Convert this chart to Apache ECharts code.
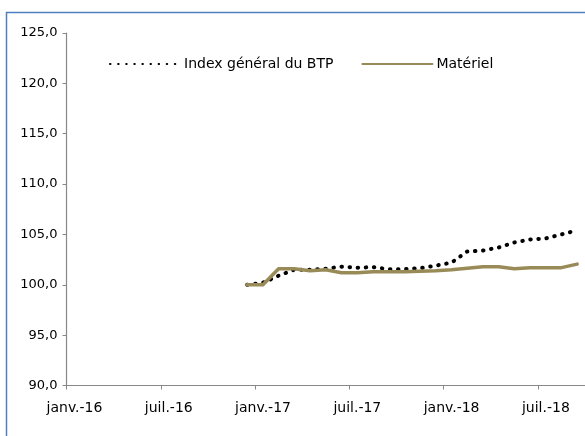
<!DOCTYPE html>
<html>
<head>
<meta charset="utf-8">
<script src="https://cdn.jsdelivr.net/npm/echarts@6/dist/echarts.min.js"></script>
<style>
html,body{margin:0;padding:0;background:#fff;}
#c{width:585px;height:436px;}
</style>
</head>
<body>
<div id="c"></div>
<script>
// Month index from janv.-16 (0) ; data from déc.-16 to sept.-18
var months = ['déc.-16','janv.-17','févr.-17','mars-17','avr.-17','mai-17','juin-17','juil.-17','août-17','sept.-17','oct.-17','nov.-17','déc.-17','janv.-18','févr.-18','mars-18','avr.-18','mai-18','juin-18','juil.-18','août-18','sept.-18'];
var monthIndex = [11,12,13,14,15,16,17,18,19,20,21,22,23,24,25,26,27,28,29,30,31,32];
var indexBTP = [100.0,100.2,100.9,101.5,101.5,101.6,101.8,101.7,101.75,101.55,101.55,101.65,101.9,102.2,103.3,103.4,103.7,104.2,104.5,104.6,105.0,105.4];
var materiel = [100.0,100.0,101.6,101.6,101.4,101.5,101.2,101.2,101.3,101.3,101.3,101.35,101.4,101.5,101.65,101.8,101.8,101.6,101.7,101.7,101.7,102.05];
var tickLabels = {0:'janv.-16',6:'juil.-16',12:'janv.-17',18:'juil.-17',24:'janv.-18',30:'juil.-18'};
var seriesNames = ['Index général du BTP','Matériel'];

function pairs(vals){ return vals.map(function(v,i){ return [monthIndex[i]+0.5, v]; }); }

var font = 'DejaVu Sans';
var chart = echarts.init(document.getElementById('c'), null, {renderer:'canvas'});
chart.setOption({
  animation:false,
  backgroundColor:'#fff',
  textStyle:{fontFamily:font},
  graphic:[{type:'rect', left:4, top:10, shape:{x:0,y:0,width:700,height:500}, style:{fill:'none', stroke:'#4f7fbd', lineWidth:1.5}, silent:true, z:-10}],
  legend:{
    left:104, top:52, itemWidth:70, itemHeight:10, itemGap:28,
    itemStyle:{opacity:0},
    textStyle:{fontFamily:font, fontSize:14, color:'#000', padding:[0,0,0,-1]},
    data:[{name:seriesNames[0]},{name:seriesNames[1]}]
  },
  grid:{left:66.5, top:33, bottom:50.5, right:0, containLabel:false},
  xAxis:{
    type:'value', min:0, max:33, interval:6,
    axisLine:{show:true, lineStyle:{color:'#888', width:1.2}},
    axisTick:{show:true, length:4, lineStyle:{color:'#888'}},
    splitLine:{show:false},
    axisLabel:{margin:16, color:'#000', fontSize:14, fontFamily:font, showMaxLabel:false, padding:[0,0,0,16],
      formatter:function(v){ return tickLabels[v] || ''; }}
  },
  yAxis:{
    type:'value', min:90, max:125, interval:5,
    axisLine:{show:true, lineStyle:{color:'#888', width:1.2}},
    axisTick:{show:true, length:4, lineStyle:{color:'#888'}},
    splitLine:{show:false},
    axisLabel:{margin:9, color:'#000', fontSize:13, fontFamily:font,
      formatter:function(v){ return v.toFixed(1).replace('.', ','); }}
  },
  series:[
    {name:seriesNames[0], type:'line', data:pairs(indexBTP), symbol:'none', showSymbol:false, z:2,
     lineStyle:{color:'#000', width:4, type:[0.5,7.6], cap:'round'}, itemStyle:{color:'#000'}},
    {name:seriesNames[1], type:'line', data:pairs(materiel), symbol:'none', showSymbol:false, z:3,
     lineStyle:{color:'#998b58', width:3.5, cap:'round', join:'round'}, itemStyle:{color:'#998b58'}}
  ]
});
</script>
</body>
</html>
